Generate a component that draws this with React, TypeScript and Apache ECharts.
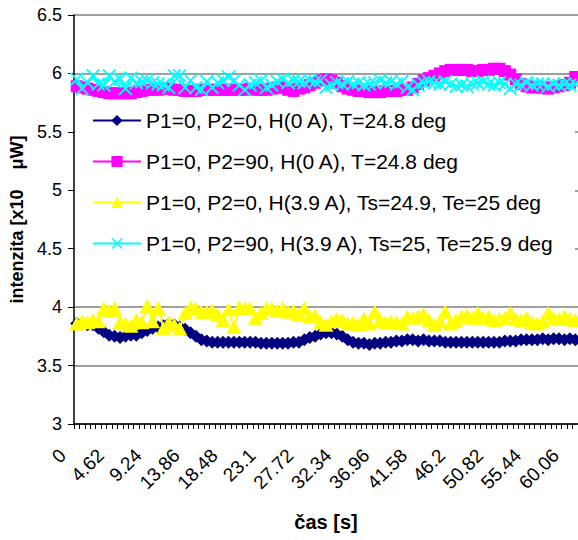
import React, { useEffect, useRef } from "react";
import * as echarts from "echarts";

const times = [
  "0", "0.66", "1.32", "1.98", "2.64", "3.3", "3.96", "4.62", "5.28", "5.94",
  "6.6", "7.26", "7.92", "8.58", "9.24", "9.9", "10.56", "11.22", "11.88", "12.54",
  "13.2", "13.86", "14.52", "15.18", "15.84", "16.5", "17.16", "17.82", "18.48", "19.14",
  "19.8", "20.46", "21.12", "21.78", "22.44", "23.1", "23.76", "24.42", "25.08", "25.74",
  "26.4", "27.06", "27.72", "28.38", "29.04", "29.7", "30.36", "31.02", "31.68", "32.34",
  "33", "33.66", "34.32", "34.98", "35.64", "36.3", "36.96", "37.62", "38.28", "38.94",
  "39.6", "40.26", "40.92", "41.58", "42.24", "42.9", "43.56", "44.22", "44.88", "45.54",
  "46.2", "46.86", "47.52", "48.18", "48.84", "49.5", "50.16", "50.82", "51.48", "52.14",
  "52.8", "53.46", "54.12", "54.78", "55.44", "56.1", "56.76", "57.42", "58.08", "58.74",
  "59.4", "60.06", "60.72",
];

const names = [
  "P1=0, P2=0, H(0 A), T=24.8 deg",
  "P1=0, P2=90, H(0 A), T=24.8 deg",
  "P1=0, P2=0, H(3.9 A), Ts=24.9, Te=25 deg",
  "P1=0, P2=90, H(3.9 A), Ts=25, Te=25.9 deg",
];

const navyVals = [
  3.86, 3.86, 3.85, 3.85, 3.82, 3.79, 3.76, 3.75, 3.74, 3.75,
  3.76, 3.76, 3.78, 3.80, 3.82, 3.83, 3.84, 3.86, 3.85, 3.83,
  3.81, 3.78, 3.75, 3.72, 3.71, 3.70, 3.70, 3.70, 3.70, 3.70,
  3.70, 3.70, 3.70, 3.70, 3.69, 3.69, 3.69, 3.69, 3.69, 3.69,
  3.70, 3.70, 3.72, 3.74, 3.75, 3.77, 3.78, 3.78, 3.77, 3.75,
  3.72, 3.70, 3.69, 3.69, 3.68, 3.69, 3.69, 3.70, 3.70, 3.71,
  3.71, 3.72, 3.72, 3.71, 3.72, 3.71, 3.71, 3.71, 3.70, 3.70,
  3.70, 3.70, 3.70, 3.70, 3.70, 3.70, 3.70, 3.70, 3.70, 3.71,
  3.71, 3.71, 3.72, 3.72, 3.72, 3.72, 3.73, 3.72, 3.73, 3.73,
  3.72, 3.73, 3.72,
];

const magentaVals = [
  5.89, 5.88, 5.87, 5.86, 5.85, 5.84, 5.83, 5.83, 5.83, 5.83,
  5.83, 5.84, 5.85, 5.86, 5.86, 5.86, 5.87, 5.87, 5.86, 5.86,
  5.85, 5.85, 5.85, 5.86, 5.86, 5.86, 5.86, 5.86, 5.86, 5.86,
  5.86, 5.86, 5.87, 5.86, 5.86, 5.86, 5.87, 5.88, 5.88, 5.86,
  5.85, 5.87, 5.88, 5.90, 5.92, 5.94, 5.95, 5.94, 5.92, 5.89,
  5.87, 5.86, 5.85, 5.85, 5.84, 5.84, 5.84, 5.85, 5.85, 5.85,
  5.86, 5.86, 5.88, 5.91, 5.94, 5.96, 5.98, 6.00, 6.02, 6.03,
  6.03, 6.03, 6.03, 6.02, 6.02, 6.03, 6.03, 6.04, 6.04, 6.02,
  5.99, 5.95, 5.91, 5.89, 5.88, 5.88, 5.88, 5.87, 5.88, 5.89,
  5.90, 5.92, 5.97,
];

const yellowVals = [
  3.86, 3.88, 3.87, 3.89, 3.88, 3.99, 3.97, 3.99, 3.87, 3.86,
  3.84, 3.89, 3.87, 4.01, 3.88, 3.99, 3.82, 3.87, 3.85, 3.82,
  3.95, 4.00, 3.99, 3.96, 3.96, 3.97, 3.94, 3.89, 3.98, 3.83,
  4.00, 3.99, 3.99, 3.91, 3.95, 3.99, 3.99, 3.97, 3.99, 3.96,
  3.97, 3.94, 3.99, 3.92, 3.93, 3.87, 3.85, 3.88, 3.90, 3.89,
  3.86, 3.87, 3.85, 3.90, 3.86, 3.96, 3.89, 3.87, 3.88, 3.87,
  3.86, 3.92, 3.91, 3.92, 3.94, 3.89, 3.85, 3.88, 3.96, 3.86,
  3.89, 3.92, 3.93, 3.91, 3.95, 3.91, 3.92, 3.89, 3.90, 3.91,
  3.95, 3.90, 3.89, 3.91, 3.87, 3.86, 3.88, 3.95, 3.91, 3.90,
  3.92, 3.90, 3.89,
];

const cyanVals = [
  5.95, 5.87, 5.92, 5.98, 5.91, 5.90, 5.98, 5.93, 5.95, 5.87,
  5.96, 5.92, 5.93, 5.94, 5.92, 5.91, 5.90, 5.88, 5.98, 5.98,
  5.88, 5.94, 5.88, 5.86, 5.93, 5.88, 5.92, 5.94, 5.97, 5.94,
  5.90, 5.86, 5.90, 5.92, 5.94, 5.88, 5.90, 5.93, 5.95, 5.92,
  5.94, 5.93, 5.92, 5.94, 5.93, 5.94, 5.88, 5.90, 5.92, 5.91,
  5.93, 5.91, 5.92, 5.90, 5.91, 5.92, 5.94, 5.92, 5.93, 5.91,
  5.93, 5.88, 5.86, 5.90, 5.92, 5.93, 5.92, 5.91, 5.93, 5.91,
  5.89, 5.90, 5.89, 5.91, 5.92, 5.93, 5.91, 5.90, 5.92, 5.91,
  5.87, 5.91, 5.90, 5.92, 5.90, 5.91, 5.91, 5.89, 5.91, 5.90,
  5.91, 5.90, 5.91,
];

const colors = ["#000080", "#FF00FF", "#FFFF00", "#00FFFF"];
const FONT = "'Liberation Sans', Arial, sans-serif";
const X_SYMBOL =
  "path://M0,1.1L1.1,0L6,4.9L10.9,0L12,1.1L7.1,6L12,10.9L10.9,12L6,7.1L1.1,12L0,10.9L4.9,6Z";

export default function App() {
  const ref = useRef<HTMLDivElement>(null);
  useEffect(() => {
    const chart = echarts.init(ref.current!, null, { renderer: "svg" });
    const mk = (i: number, data: number[], symbol: string, size: number | number[]) => ({
      name: names[i],
      type: "line",
      data,
      symbol,
      symbolSize: size,
      showAllSymbol: true,
      lineStyle: { color: colors[i], width: 2 },
      itemStyle: { color: colors[i] },
      z: 2 + i,
    });
    chart.setOption({
      animation: false,
      backgroundColor: "#ffffff",
      textStyle: { fontFamily: FONT },
      grid: { left: 66, top: 15, right: 0, bottom: 116, containLabel: false },
      graphic: [
        {
          type: "rect",
          z: 1,
          shape: { x: 75, y: 100, width: 500, height: 165 },
          style: { fill: "#ffffff" },
          silent: true,
        },
      ],
      legend: {
        orient: "vertical",
        left: 75,
        top: 100,
        padding: [10, 10, 10, 17],
        itemWidth: 48,
        itemHeight: 14,
        itemGap: 20,
        textStyle: { fontSize: 21, color: "#000", fontFamily: FONT, lineHeight: 20 },
        data: names,
      },
      xAxis: {
        type: "category",
        data: times,
        boundaryGap: true,
        name: "čas [s]",
        nameLocation: "middle",
        nameGap: 88,
        nameTextStyle: { fontSize: 20, fontWeight: "bold", color: "#000", fontFamily: FONT },
        axisLine: { lineStyle: { color: "#000", width: 1.5 } },
        axisTick: { show: true, interval: 0, length: 5, lineStyle: { color: "#000" } },
        axisLabel: {
          interval: 6,
          rotate: 45,
          fontSize: 19,
          color: "#000",
          margin: 14,
          padding: [0, 20, 0, 0],
          fontFamily: FONT,
        },
        splitLine: { show: false },
      },
      yAxis: {
        type: "value",
        min: 3,
        max: 6.5,
        interval: 0.5,
        name: "intenzita [x10    μW]",
        nameLocation: "middle",
        nameGap: 48,
        nameTextStyle: { fontSize: 18, fontWeight: "bold", color: "#000", fontFamily: FONT },
        axisLine: { show: true, lineStyle: { color: "#000", width: 1.5 } },
        axisTick: { show: true, length: 6, lineStyle: { color: "#000" } },
        axisLabel: { fontSize: 18, color: "#000", margin: 12, fontFamily: FONT },
        splitLine: { show: true, lineStyle: { color: "#808080", width: 1.5 } },
      },
      series: [
        mk(0, navyVals, "diamond", 13),
        mk(1, magentaVals, "rect", 12),
        mk(2, yellowVals, "triangle", [15, 14]),
        mk(3, cyanVals, X_SYMBOL, 14),
      ],
    });
    return () => chart.dispose();
  }, []);
  return (
    <div
      ref={ref}
      style={{ position: "absolute", left: 0, top: 0, width: 578, height: 540, background: "#fff" }}
    />
  );
}
